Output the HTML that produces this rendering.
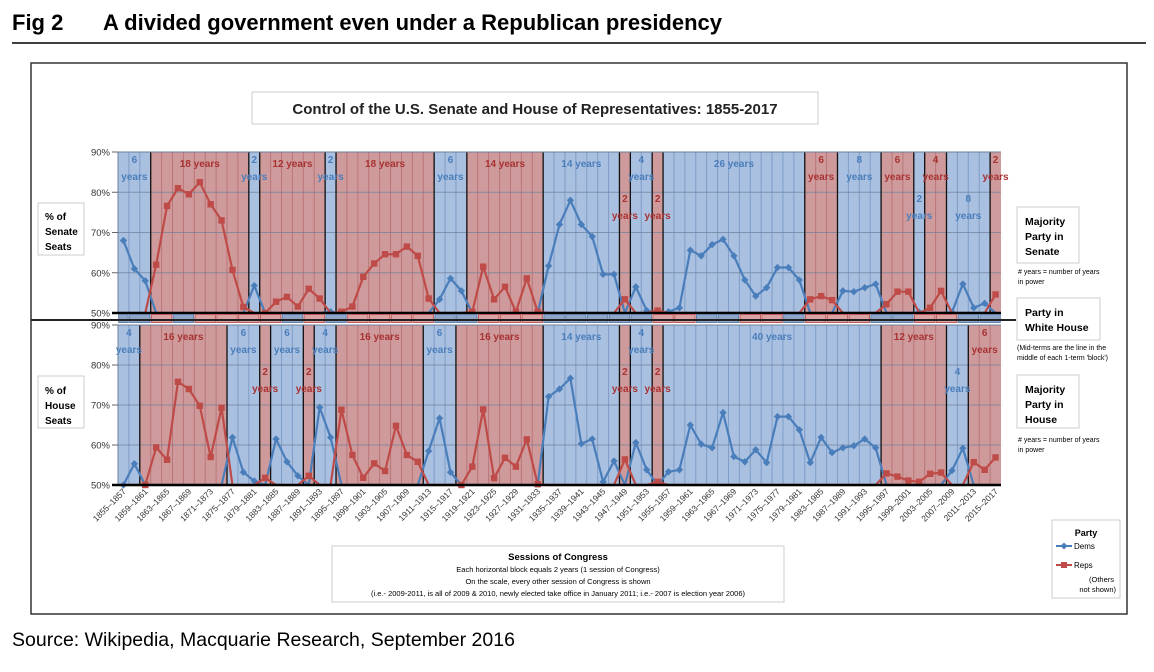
<!DOCTYPE html>
<html><head><meta charset="utf-8"><style>
html,body{margin:0;padding:0;background:#fff;}
body{width:1154px;height:667px;overflow:hidden;font-family:"Liberation Sans",sans-serif;}
svg text{font-family:"Liberation Sans",sans-serif;}
</style></head><body>
<svg id="svg" width="1154" height="667" viewBox="0 0 1154 667" xmlns="http://www.w3.org/2000/svg">
<g>
<text x="12" y="30" font-size="22" font-weight="bold" fill="#000">Fig 2</text>
<text x="103" y="30" font-size="22" font-weight="bold" fill="#000">A divided government even under a Republican presidency</text>
</g>
<line x1="12" y1="43" x2="1146" y2="43" stroke="#000" stroke-width="1.5"/>
<rect x="31" y="63" width="1096" height="551" fill="#fff" stroke="#333" stroke-width="1.5"/>
<rect x="252" y="92" width="566" height="32" fill="#fff" stroke="#ccc"/>
<text x="535" y="114" text-anchor="middle" font-size="15" font-weight="bold" fill="#222">Control of the U.S. Senate and House of Representatives: 1855-2017</text>
<g id="plot"></g>
<line x1="31" y1="320" x2="1016" y2="320" stroke="#222" stroke-width="2"/>
<g>
<rect x="38" y="203" width="46" height="52" fill="#fff" stroke="#ccc"/>
<text x="45" y="220" font-size="10" font-weight="bold">% of</text>
<text x="45" y="235" font-size="10" font-weight="bold">Senate</text>
<text x="45" y="250" font-size="10" font-weight="bold">Seats</text>
</g>
<g>
<rect x="38" y="376" width="46" height="52" fill="#fff" stroke="#ccc"/>
<text x="45" y="394" font-size="10" font-weight="bold">% of</text>
<text x="45" y="409" font-size="10" font-weight="bold">House</text>
<text x="45" y="424" font-size="10" font-weight="bold">Seats</text>
</g>
<g>
<rect x="1017" y="207" width="62" height="56" fill="#fff" stroke="#ccc"/>
<text x="1025" y="225" font-size="10.5" font-weight="bold">Majority</text>
<text x="1025" y="240" font-size="10.5" font-weight="bold">Party in</text>
<text x="1025" y="255" font-size="10.5" font-weight="bold">Senate</text>
<text x="1018" y="274" font-size="7">#  years = number of years</text>
<text x="1018" y="284" font-size="7">in power</text>
</g>
<g>
<rect x="1017" y="298" width="83" height="42" fill="#fff" stroke="#ccc"/>
<text x="1025" y="316" font-size="10.5" font-weight="bold">Party in</text>
<text x="1025" y="331" font-size="10.5" font-weight="bold">White House</text>
<text x="1017" y="350" font-size="7">(Mid-terms are the line in the</text>
<text x="1017" y="360" font-size="7">middle of each 1-term 'block')</text>
</g>
<g>
<rect x="1017" y="375" width="62" height="53" fill="#fff" stroke="#ccc"/>
<text x="1025" y="393" font-size="10.5" font-weight="bold">Majority</text>
<text x="1025" y="408" font-size="10.5" font-weight="bold">Party in</text>
<text x="1025" y="423" font-size="10.5" font-weight="bold">House</text>
<text x="1018" y="442" font-size="7">#  years = number of years</text>
<text x="1018" y="452" font-size="7">in power</text>
</g>
<g>
<rect x="332" y="546" width="452" height="56" fill="#fff" stroke="#ccc"/>
<text x="558" y="560" text-anchor="middle" font-size="9.5" font-weight="bold">Sessions of Congress</text>
<text x="558" y="572" text-anchor="middle" font-size="7.5">Each horizontal block equals 2 years (1 session of Congress)</text>
<text x="558" y="584" text-anchor="middle" font-size="7.5">On the scale, every other session of Congress is shown</text>
<text x="558" y="596" text-anchor="middle" font-size="7.5">(i.e.- 2009-2011, is all of 2009 &amp; 2010, newly elected take office in January 2011;  i.e.- 2007 is election year 2006)</text>
</g>
<g>
<rect x="1052" y="520" width="68" height="78" fill="#fff" stroke="#ccc"/>
<text x="1086" y="536" text-anchor="middle" font-size="9" font-weight="bold">Party</text>
<g>
<line x1="1056" y1="546" x2="1072" y2="546" stroke="#4a7ebb" stroke-width="2"/>
<rect x="1061.5" y="543.5" width="5" height="5" fill="#4a7ebb" transform="rotate(45 1064 546)"/>
<text x="1074" y="549" font-size="8">Dems</text></g>
<g>
<line x1="1056" y1="565" x2="1072" y2="565" stroke="#be4b48" stroke-width="2"/>
<rect x="1061" y="562" width="6" height="6" fill="#be4b48"/>
<text x="1074" y="568" font-size="8">Reps</text></g>
<text x="1114" y="582" text-anchor="end" font-size="7.5">(Others</text>
<text x="1116" y="592" text-anchor="end" font-size="7.5">not shown)</text>
</g>
<text x="12" y="646" font-size="19.5" fill="#000">Source: Wikipedia, Macquarie Research, September 2016</text>
</svg>
<script>
// ----- data -----
const startYear = 1855;
const nSessions = 81;
const senateBlockParty = ["D","R","D","R","D","R","D","R","D","R","D","R","D","R","D","R","D","R","D","R"];
const senateBlockLen   = [3,9,1,6,1,9,3,7,7,1,2,1,13,3,4,3,1,2,4,1];
const senatePct = [68,61,58, 62,76.6,81,79.5,82.5,77,73,60.7,51.5, 56.8, 50,52.8,54,51.6,56,53.6, 50.3,
  50.3,51.6,59,62.3,64.6,64.6,66.5,64.2,53.6, 53.4,58.6,55.5, 50.3,61.5,53.4,56.5,50.3,58.6,50.3,
  61.7,72,78,72,69,59.6,59.6, 53.4, 56.5,50.6, 50.6,
  50.3,51.3,65.6,64.2,67,68.3,64.2,58.2,54.2,56.3,61.3,61.3,58.2, 53.4,54.2,53.2, 55.5,55.3,56.3,57.2,
  52.2,55.3,55.3, 50.2, 51.3,55.5, 50.2,57.2,51.3,52.4, 54.6];
const houseBlockParty = ["D","R","D","R","D","R","D","R","D","R","D","R","D","R","D","R","D","R"];
const houseBlockLen   = [2,8,3,1,3,1,2,8,3,8,7,1,2,1,20,6,2,3];
const housePct = [50,55.3, 50,59.4,56.3,75.8,74,69.8,57,69.3, 61.9,53.2,51, 51.8, 61.5,55.8,52.3, 52.3, 69.4,61.9,
  68.8,57.5,51.8,55.4,53.5,64.8,57.5,55.8, 58.5,66.7,53.2, 50,54.6,68.9,51.7,56.8,54.6,61.4,50.2,
  72.1,74,76.7,60.3,61.5,50.8,56, 56.4, 60.6,53.8, 50.8,
  53.3,53.8,65,60.2,59.3,68.1,57.1,55.8,58.8,55.6,67.1,67.1,63.8,55.6,61.9,58.1,59.3,59.8,61.5,59.3,
  52.9,52.1,51.1,50.8,52.8,53.1, 53.6,59.2, 55.7,53.8,56.9];
const whParty = ["D","D","R","D","R","R","R","R","D","R","D","R","R","R","R","D","D","R","R","R","D","D","D","D","D","R","R","D","D","R","R","D","R","R","R","D","D","R","R","D","D"];
const whLen   = [1,2,2,2,2,2,2,2,2,2,2,2,2,2,2,2,2,2,2,2,2,2,2,2,2,2,2,2,2,2,2,2,2,2,2,2,2,2,2,2,2];
const yTicks = [50,60,70,80,90];
const tickLabels = ["50%","60%","70%","80%","90%"];
const senateLow = [9,11,16,18];
const houseLow = [3,5,11,13,16];

// ----- layout -----
const NS="http://www.w3.org/2000/svg";
const plot=document.getElementById('plot');
const X0=118, X1=1001, cw=(X1-X0)/nSessions;
const xCol=i=>X0+i*cw, xMid=i=>X0+(i+0.5)*cw;
const C={Dbg:"#a9c0e0",Rbg:"#cf9a9b",Dln:"#7f9dc7",Rln:"#b97679",Dline:"#4a7ebb",Rline:"#be4b48",Dtxt:"#4a7ebb",Rtxt:"#a83232"};
function el(tag,attrs,parent){const e=document.createElementNS(NS,tag);for(const k in attrs)e.setAttribute(k,attrs[k]);(parent||plot).appendChild(e);return e;}
function txt(x,y,s,attrs,parent){const t=el('text',Object.assign({x:x,y:y},attrs),parent);t.textContent=s;return t;}

function panel(name,top,bot,party,len,pct,low){
  const yS=v=>bot-(v-50)/40*(bot-top);
  const g=el('g',{});
  
  
  const colParty=[];let c=0;
  party.forEach((p,b)=>{for(let k=0;k<len[b];k++)colParty.push(p);});
  c=0;
  party.forEach((p,b)=>{
    const r=el('rect',{x:xCol(c),y:top,width:len[b]*cw,height:bot-top,fill:p==="D"?C.Dbg:C.Rbg},g);
    
    
    c+=len[b];
  });
  for(let i=1;i<nSessions;i++){el('line',{x1:xCol(i),x2:xCol(i),y1:top,y2:bot,stroke:colParty[i]==="D"?C.Dln:C.Rln,'stroke-width':1},g);}
  yTicks.forEach((t,k)=>{
    if(t>50&&t<90)el('line',{x1:X0,x2:X1,y1:yS(t),y2:yS(t),stroke:"#6d7f99",'stroke-width':1,opacity:0.7},g);
    el('line',{x1:X0-6,x2:X0,y1:yS(t),y2:yS(t),stroke:"#666"},g);
    const tl=txt(X0-8,yS(t)+3.5,tickLabels[k],{'text-anchor':'end','font-size':9.5,fill:"#333"},g);
    
    
  });
  c=0;
  party.forEach((p,b)=>{if(c>0)el('line',{x1:xCol(c),x2:xCol(c),y1:top,y2:bot,stroke:"#111",'stroke-width':1.3},g);c+=len[b];});
  el('line',{x1:X0,x2:X0,y1:top,y2:bot,stroke:"#6d7f99"},g);
  el('line',{x1:X0,x2:X1,y1:top,y2:top,stroke:"#6d7f99"},g);
  ["D","R"].forEach(P=>{
    const pts=pct.map((v,i)=>[xMid(i),yS(colParty[i]===P?v:50)]);
    const pl=el('polyline',{points:pts.map(p=>p.join(',')).join(' '),fill:'none',stroke:P==="D"?C.Dline:C.Rline,'stroke-width':2.2,'stroke-linejoin':'round'},g);
    
    
    pct.forEach((v,i)=>{
      if(colParty[i]!==P)return;
      const x=xMid(i),y=yS(v);
      let m;
      if(P==="D")m=el('rect',{x:x-2.6,y:y-2.6,width:5.2,height:5.2,fill:C.Dline,transform:`rotate(45 ${x} ${y})`},g);
      else m=el('rect',{x:x-3.2,y:y-3.2,width:6.4,height:6.4,fill:C.Rline},g);
      
      
    });
  });
  el('line',{x1:X0-6,x2:X1,y1:bot,y2:bot,stroke:"#000",'stroke-width':2.5},g);
  c=0;
  party.forEach((p,b)=>{
    const cx=xCol(c)+len[b]*cw/2, col=p==="D"?C.Dtxt:C.Rtxt;
    const yrs=len[b]*2;
    let lab;
    if(len[b]>=5){lab=txt(cx,top+15,yrs+" years",{'text-anchor':'middle','font-size':10,'font-weight':'bold',fill:col},g);}
    else{
      const base=low.includes(b)?top+50:top+11;
      lab=el('g',{},g);
      txt(cx,base,String(yrs),{'text-anchor':'middle','font-size':10,'font-weight':'bold',fill:col},lab);
      txt(cx,base+17,"years",{'text-anchor':'middle','font-size':10,'font-weight':'bold',fill:col},lab);
    }
    
    
    c+=len[b];
  });
}
panel('senate',152,313,senateBlockParty,senateBlockLen,senatePct,senateLow);
panel('house',325,485,houseBlockParty,houseBlockLen,housePct,houseLow);

const wg=el('g',{});


let cc=0;
whParty.forEach((p,k)=>{
  const r=el('rect',{x:xCol(cc)+0.7,y:314.5,width:whLen[k]*cw-1.4,height:8,fill:p==="D"?"#8fa6c6":"#dba3a3",stroke:p==="D"?"#5f7fae":"#c05a5a",'stroke-width':1},wg);
  
  
  cc+=whLen[k];
});

for(let i=0;i<nSessions;i+=2){
  const x=xMid(i)+3,y=492;
  const t=txt(x,y,(startYear+2*i)+"\u2013"+(startYear+2*i+2),{'text-anchor':'end','font-size':8.5,fill:"#333",transform:`rotate(-45 ${x} ${y})`});
  
  
}
</script>
</body></html>
